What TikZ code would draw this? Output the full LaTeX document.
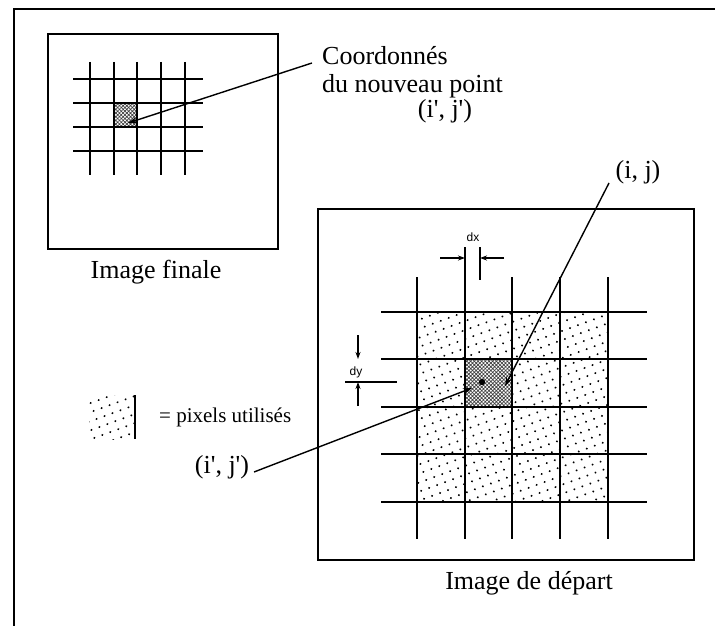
\documentclass[tikz,border=0pt]{standalone}
\usepackage{fontspec}
\setmainfont{Liberation Serif}
\setsansfont{Liberation Sans}
\usetikzlibrary{arrows.meta,patterns.meta}
\newcommand{\apo}{\textquotesingle}
\tikzset{
  frame/.style={line width=1.6pt},
  box/.style={line width=1.5pt},
  gridline/.style={line width=2pt},
  leader/.style={line width=1.4pt,-{Stealth[length=9pt,width=6pt]}},
  dimarrow/.style={line width=1.3pt,-{Stealth[length=7pt,width=5pt]}},
  big/.style={font=\fontsize{26}{30}\selectfont, inner sep=0pt},
  legend/.style={font=\fontsize{21}{25}\selectfont, inner sep=0pt},
  dimlabel/.style={font=\sffamily\fontsize{12}{14}\selectfont, inner sep=0pt},
  dotfill/.style={pattern={Dots[radius=1.1pt,distance=8.5pt,angle=20]}},
  hatchfill/.style={pattern={Hatch[angle=45,distance=2.6pt,line width=0.7pt]},pattern color=black!75}
}
\begin{document}
\begin{tikzpicture}[x=1pt,y=-1pt]
\useasboundingbox (0,0) rectangle (715,626);
% outer frame (top and left)
\draw[frame] (14,626) -- (14,9) -- (715,9);

% ---------- small image (Image finale) ----------
\draw[box] (48,34) rectangle (278,249);
\fill[hatchfill] (114,103) rectangle (137,127);
\foreach \x in {90,114,137,161,185} \draw[gridline] (\x,62) -- (\x,175);
\foreach \y in {79,103,127,151} \draw[gridline] (73,\y) -- (203,\y);
\coordinate (newpt) at (128,123);
\node[big, anchor=west] (coord) at (322,56) {Coordonnés};
\node[big, anchor=west] (nouv) at (322,86) {du nouveau point};
\node[big] (ijp1) at (445,111) {(i\apo, j\apo)};
\coordinate (cstart) at (312,63);
\draw[leader] (cstart) -- (newpt);
\node[big] (finale) at (156,272) {Image finale};

% ---------- big image (Image de depart) ----------
\draw[box] (318,209) rectangle (694,560);
\fill[dotfill] (417,312) rectangle (608,502);
\fill[white] (465,359) rectangle (512,407);
\fill[hatchfill] (465,359) rectangle (512,407);
\foreach \x in {417,512,560,608} \draw[gridline] (\x,277) -- (\x,539);
\draw[gridline] (465,247) -- (465,539);
\foreach \y in {312,359,407,454,502} \draw[gridline] (381,\y) -- (647,\y);

% dx
\draw[line width=1.3pt] (480,247) -- (480,280);
\coordinate (dxl) at (440,258);
\coordinate (dxlt) at (465,258);
\coordinate (dxr) at (504,258);
\coordinate (dxrt) at (480,258);
\draw[dimarrow] (dxl) -- (dxlt);
\draw[dimarrow] (dxr) -- (dxrt);
\node[dimlabel] (dx) at (473,237) {dx};

% dy
\draw[line width=1.3pt] (345,382) -- (397,382);
\coordinate (dyt) at (358,335);
\coordinate (dytt) at (358,359);
\coordinate (dyb) at (358,406);
\coordinate (dybt) at (358,382);
\draw[dimarrow] (dyt) -- (dytt);
\draw[dimarrow] (dyb) -- (dybt);
\node[dimlabel] (dy) at (356,372) {dy};

% (i, j) label
\node[big] (ij) at (638,172) {(i, j)};
\coordinate (ijstart) at (609,183);
\coordinate (ijend) at (505,386);
\draw[leader] (ijstart) -- (ijend);

% (i', j') label
\node[big] (ijp2) at (222,467) {(i\apo, j\apo)};
\coordinate (ijpstart) at (254,472);
\coordinate (ijpend) at (472,388);
\draw[leader] (ijpstart) -- (ijpend);
\fill (482,382) circle (3.2pt);

\node[big] (depart) at (529,583) {Image de départ};

% legend
\fill[dotfill] (89,395) rectangle (135,439);
\draw[line width=1.5pt] (135,395) -- (135,439);
\node[legend, anchor=west] (leg) at (159,417) {= pixels utilisés};
\end{tikzpicture}
\end{document}
